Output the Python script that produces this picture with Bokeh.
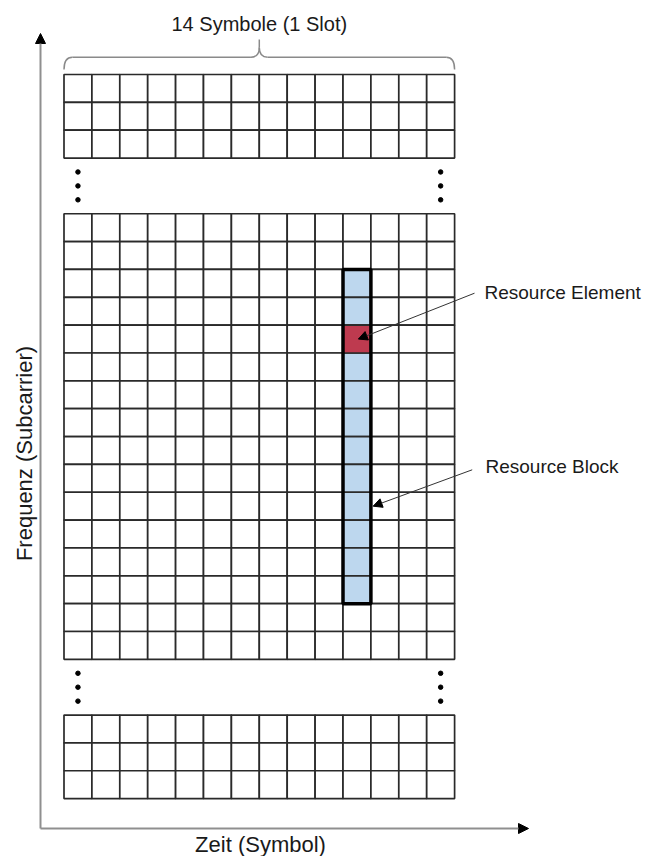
import numpy as np
from bokeh.plotting import figure
from bokeh.models import Range1d, Arrow, NormalHead
from bokeh.embed import file_html
from bokeh.resources import INLINE
from bokeh.core.properties import value

# ---------------- data ----------------
n_symbols = 14                 # symbols per slot (columns)
block_rows = [3, 16, 3]        # subcarrier rows drawn in each visible block
gap_rows = 2                   # rows left out (dots) between blocks
rb_symbol = 10                 # symbol index of the highlighted resource block
rb_first_subcarrier = 2        # first subcarrier of the RB inside the middle block
rb_subcarriers = 12            # subcarriers per resource block
re_subcarrier = 4              # subcarrier of the resource element inside the middle block
slot_label = "14 Symbole (1 Slot)"
x_label = "Zeit (Symbol)"
y_label = "Frequenz (Subcarrier)"
re_label = "Resource Element"
rb_label = "Resource Block"

# ---------------- layout ----------------
W, H = 646, 856
CW, RH = 27.9, 27.85          # pixels per symbol / per subcarrier row
GX, GY = 63.5, 74.0           # grid origin in picture (px)
FONT = "Liberation Sans"
GRID_COLOR = "#2a2a2a"
AXIS_COLOR = "#8f8f8f"


def cx(px):
    return (px - GX) / CW


def cy(py):
    return (py - GY) / RH


p = figure(width=W, height=H, output_backend="svg", toolbar_location=None,
           x_range=Range1d(cx(0), cx(W)),
           y_range=Range1d(start=cy(H), end=cy(0)),
           min_border=0, x_axis_location=None, y_axis_location=None)
p.grid.visible = False
p.outline_line_color = None
p.background_fill_color = "white"

# block start rows
starts = [0]
for r in block_rows[:-1]:
    starts.append(starts[-1] + r + gap_rows)

# all grid cells
left, top = [], []
for s, n in zip(starts, block_rows):
    for r in range(n):
        for c in range(n_symbols):
            left.append(c)
            top.append(s + r)
left = np.array(left, dtype=float)
top = np.array(top, dtype=float)
p.quad(left=left, right=left + 1, top=top, bottom=top + 1,
       fill_color="white", line_color=GRID_COLOR, line_width=1.7)

# dots between blocks
dx, dy = [], []
for s, n in zip(starts[:-1], block_rows[:-1]):
    for c in (0.5, n_symbols - 0.5):
        for k in (0.5, 1.0, 1.5):
            dx.append(c)
            dy.append(s + n + k)
p.scatter(dx, dy, size=4.5, color="black")

# resource block
mid = starts[1]
rb_rows = np.arange(rb_subcarriers) + mid + rb_first_subcarrier
p.quad(left=[rb_symbol] * rb_subcarriers, right=[rb_symbol + 1] * rb_subcarriers,
       top=rb_rows, bottom=rb_rows + 1,
       fill_color="#bdd7ee", line_color=GRID_COLOR, line_width=1.7)
# resource element
p.quad(left=[rb_symbol], right=[rb_symbol + 1],
       top=[mid + re_subcarrier], bottom=[mid + re_subcarrier + 1],
       fill_color="#be3a4f", line_color=GRID_COLOR, line_width=1.7)
# RB outline
p.quad(left=[rb_symbol], right=[rb_symbol + 1],
       top=[mid + rb_first_subcarrier], bottom=[mid + rb_first_subcarrier + rb_subcarriers],
       fill_color=None, line_color="black", line_width=3.5)

# axes arrows
head = dict(size=10, fill_color="black", line_color="black")
p.add_layout(Arrow(end=NormalHead(**head), x_start=cx(40), y_start=cy(828),
                   x_end=cx(40), y_end=cy(33), line_color=AXIS_COLOR, line_width=2))
p.add_layout(Arrow(end=NormalHead(**head), x_start=cx(40), y_start=cy(828),
                   x_end=cx(528), y_end=cy(828), line_color=AXIS_COLOR, line_width=2))

# annotation arrows
ahead = dict(size=9, fill_color="black", line_color="black")
p.add_layout(Arrow(end=NormalHead(**ahead), x_start=cx(474), y_start=cy(292.7),
                   x_end=rb_symbol + 0.55, y_end=mid + re_subcarrier + 0.5,
                   line_color="#333333", line_width=1))
p.add_layout(Arrow(end=NormalHead(**ahead), x_start=cx(471.7), y_start=cy(469.3),
                   x_end=rb_symbol + 1.08, y_end=mid + rb_first_subcarrier + 8.5,
                   line_color="#333333", line_width=1))

# brace over the slot
y_end, y_line, y_tip = cy(69), cy(56.7), cy(39)
half = n_symbols / 2
r = 0.3
bc = dict(line_color="#8a8a8a", line_width=1.5)
p.quadratic(x0=[0, n_symbols], y0=[y_end, y_end], x1=[r, n_symbols - r], y1=[y_line, y_line],
            cx=[0, n_symbols], cy=[y_line, y_line], **bc)
p.segment(x0=[r, half + r], y0=[y_line, y_line], x1=[half - r, n_symbols - r], y1=[y_line, y_line], **bc)
mid_y = y_line - 0.35
p.quadratic(x0=[half - r, half + r], y0=[y_line, y_line], x1=[half, half], y1=[mid_y, mid_y],
            cx=[half, half], cy=[y_line, y_line], **bc)
p.segment(x0=[half], y0=[mid_y], x1=[half], y1=[y_tip], **bc)

# texts
txt = dict(text_font=value(FONT), text_color="#1a1a1a")
p.text(x=[half], y=[cy(23)], text=[slot_label], text_align="center",
       text_baseline="middle", text_font_size="20px", **txt)
p.text(x=[cx(484)], y=[cy(292)], text=[re_label], text_align="left",
       text_baseline="middle", text_font_size="19px", **txt)
p.text(x=[cx(485)], y=[cy(466)], text=[rb_label], text_align="left",
       text_baseline="middle", text_font_size="19px", **txt)
p.text(x=[cx(260)], y=[cy(844)], text=[x_label], text_align="center",
       text_baseline="middle", text_font_size="22px", **txt)
p.text(x=[cx(24)], y=[cy(453)], text=[y_label], text_align="center",
       text_baseline="middle", text_font_size="22px", angle=np.pi / 2, **txt)

open("out.html", "w").write(file_html(p, INLINE))
